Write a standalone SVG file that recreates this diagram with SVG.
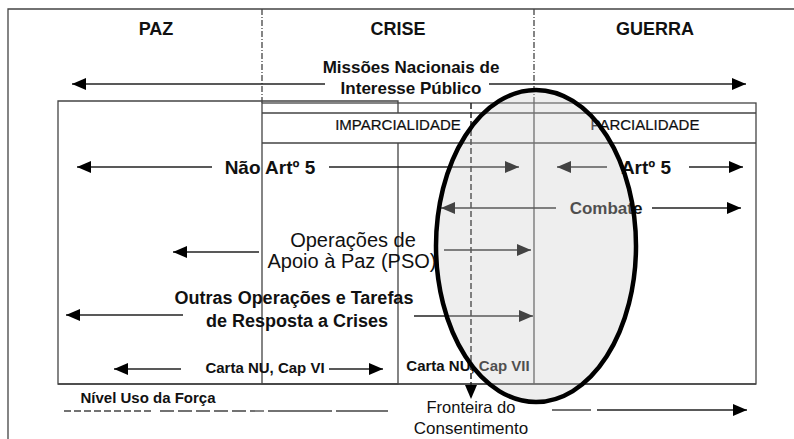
<svg xmlns="http://www.w3.org/2000/svg" width="794" height="439" viewBox="0 0 794 439">
<style>
text{font-family:"Liberation Sans",Arial,sans-serif;fill:#111}
.b{font-weight:bold}
.ln{stroke:#444;stroke-width:1.3;fill:none}
.ar{stroke:#222;stroke-width:1.5;fill:none;marker-end:url(#ah)}
</style>
<defs>
<marker id="ah" markerUnits="userSpaceOnUse" markerWidth="15" markerHeight="13" refX="14" refY="6" orient="auto">
<path d="M0,0 L14,6 L0,12 z" fill="#000"/>
</marker>
</defs>
<rect width="794" height="439" fill="#fff"/>
<g id="frame">
<path class="ln" d="M8,439 V9 H794" stroke-width="1.8"/>
<path class="ln" d="M262,9 V103 M534,9 V103" stroke-dasharray="6 2 1 2"/>
</g>
<g id="phases">
<text x="156" y="35" class="b" font-size="18" text-anchor="middle">PAZ</text>
<text x="398" y="35" class="b" font-size="18" text-anchor="middle">CRISE</text>
<text x="655" y="35" class="b" font-size="18" text-anchor="middle">GUERRA</text>
</g>
<g id="boxes">
<path class="ln" d="M398,113 V101 H58 V384 H398 V143"/>
<rect class="ln" x="262" y="103" width="494" height="281"/>
<path class="ln" d="M262,113 H756 M262,143 H756 M534,103 V384"/>
<path class="ln" d="M58,384 H756" stroke-width="2"/>
</g>
<g id="missoes">
<text x="411" y="73" class="b" font-size="17" text-anchor="middle">Missões Nacionais de</text>
<text x="411" y="94" class="b" font-size="17" text-anchor="middle">Interesse Público</text>
</g>
<g id="imparcialidade"><text x="398" y="130" font-size="15" text-anchor="middle" fill="#000" stroke="#000" stroke-width="0.2">IMPARCIALIDADE</text></g>
<g id="parcialidade"><text x="645" y="130" font-size="15" text-anchor="middle" fill="#000" stroke="#000" stroke-width="0.2">PARCIALIDADE</text></g>
<g id="nao-art5"><text x="270" y="174" class="b" font-size="19" text-anchor="middle">Não Artº 5</text></g>
<g id="art5"><text x="646" y="174" class="b" font-size="19" text-anchor="middle">Artº 5</text></g>
<g id="combate"><text x="606" y="214" class="b" font-size="17" text-anchor="middle">Combate</text></g>
<g id="pso">
<text x="353" y="247" font-size="20" text-anchor="middle" fill="#333">Operações de</text>
<text x="352" y="268" font-size="20" text-anchor="middle" fill="#333">Apoio à Paz (PSO)</text>
</g>
<g id="outras">
<text x="294" y="304" class="b" font-size="18" text-anchor="middle">Outras Operações e Tarefas</text>
<text x="297" y="327" class="b" font-size="18" text-anchor="middle">de Resposta a Crises</text>
</g>
<g id="carta-vi"><text x="265" y="373" class="b" font-size="15" text-anchor="middle">Carta NU, Cap VI</text></g>
<g id="carta-vii"><text x="468" y="371" class="b" font-size="15" text-anchor="middle">Carta NU, Cap VII</text></g>
<g id="nivel"><text x="148" y="403" class="b" font-size="15" text-anchor="middle">Nível Uso da Força</text></g>
<g id="fronteira">
<text x="471" y="413" font-size="16.5" text-anchor="middle">Fronteira do</text>
<text x="471" y="434" font-size="17" text-anchor="middle">Consentimento</text>
</g>
<g id="connectors">
<line class="ar" x1="325" y1="84" x2="72" y2="84"/>
<line class="ar" x1="489" y1="84" x2="746" y2="84"/>
<line class="ar" x1="212" y1="167" x2="77" y2="167"/>
<line class="ar" x1="329" y1="167" x2="519" y2="167"/>
<line class="ar" x1="607" y1="167" x2="557" y2="167"/>
<line class="ar" x1="689" y1="167" x2="743" y2="167"/>
<line class="ar" x1="556" y1="208" x2="441" y2="208"/>
<line class="ar" x1="652" y1="208" x2="741" y2="208"/>
<line class="ar" x1="259" y1="252" x2="173" y2="252"/>
<line class="ar" x1="444" y1="250" x2="531" y2="250"/>
<line class="ar" x1="183" y1="315" x2="66" y2="315"/>
<line class="ar" x1="414" y1="316" x2="533" y2="316"/>
<line class="ar" x1="181" y1="369" x2="114" y2="369"/>
<line class="ar" x1="329" y1="369" x2="383" y2="369"/>
<line class="ar" x1="471" y1="103" x2="471" y2="399" stroke-dasharray="6 3"/>
<path class="ln" d="M64,411 H151" stroke-dasharray="7 3"/>
<path class="ln" d="M160,411 H266" stroke-dasharray="14 4"/>
<path class="ln" d="M268,411 H332 M336,411 H388"/>
<path class="ln" d="M552,410 H591"/>
<line class="ar" x1="597" y1="410" x2="747" y2="410"/>
</g>
<g id="ellipse">
<ellipse cx="536" cy="246" rx="100" ry="156" fill="#cccccc" fill-opacity="0.33"/>
<ellipse cx="536" cy="246" rx="100" ry="156" fill="none" stroke="#000" stroke-width="4.5"/>
</g>
</svg>
